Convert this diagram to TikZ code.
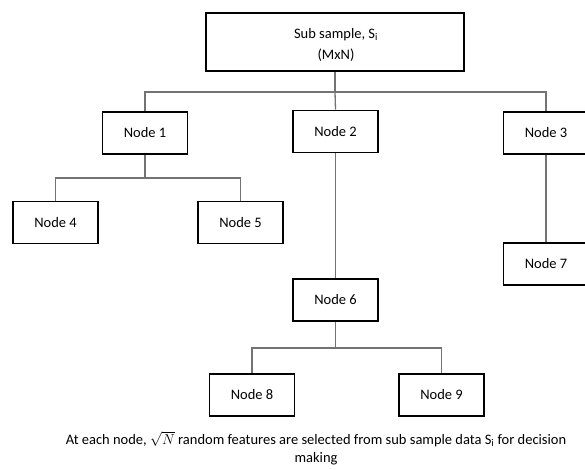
\documentclass[tikz,border=0pt]{standalone}
\usepackage{fontspec}
\setmainfont{Carlito}
\begin{document}
\begin{tikzpicture}[x=1pt,y=-1pt,
  box/.style={draw=black,line width=1.6pt,fill=white,minimum width=85pt,minimum height=42pt,inner sep=0pt,font=\fontsize{14.5}{17}\selectfont},
  link/.style={draw=black!55,line width=1.3pt}]
\useasboundingbox (0,0) rectangle (585,470);
\node[box,minimum width=258pt,minimum height=58pt] (top) at (335,42) {};
\node[align=center,inner sep=0pt,font=\fontsize{14.5}{21.5}\selectfont] (toptext) at (336,45) {Sub sample, S\textsubscript{i}\\(MxN)};
\node[box] (n1) at (145,133) {Node 1};
\node[box] (n2) at (335.5,131.5) {Node 2};
\node[box] (n3) at (546,133) {Node 3};
\node[box] (n4) at (55.5,222.5) {Node 4};
\node[box] (n5) at (240.5,222.5) {Node 5};
\node[box] (n7) at (546,264) {Node 7};
\node[box] (n6) at (335.5,300) {Node 6};
\node[box] (n8) at (252,395) {Node 8};
\node[box] (n9) at (441.5,395) {Node 9};
\coordinate (b0) at (335,92);
\coordinate (b1) at (145,178);
\coordinate (b6) at (335.5,348);
\draw[link] (top.south) -- (b0);
\draw[link] (n1.north) |- (b0) -| (n3.north);
\draw[link] (b0) -- (n2.north);
\draw[link] (n1.south) -- (b1);
\draw[link] (n4.north) |- (b1) -| (n5.north);
\draw[link] (n2.south) -- (n6.north);
\draw[link] (n3.south) -- (n7.north);
\draw[link] (n6.south) -- (b6);
\draw[link] (n8.north) |- (b6) -| (n9.north);
\node[align=center,font=\fontsize{14.5}{17.5}\selectfont,inner sep=0pt] (cap) at (316,448) {At each node, $\sqrt{N}$ random features are selected from sub sample data S\textsubscript{i} for decision\\making};
\end{tikzpicture}
\end{document}
